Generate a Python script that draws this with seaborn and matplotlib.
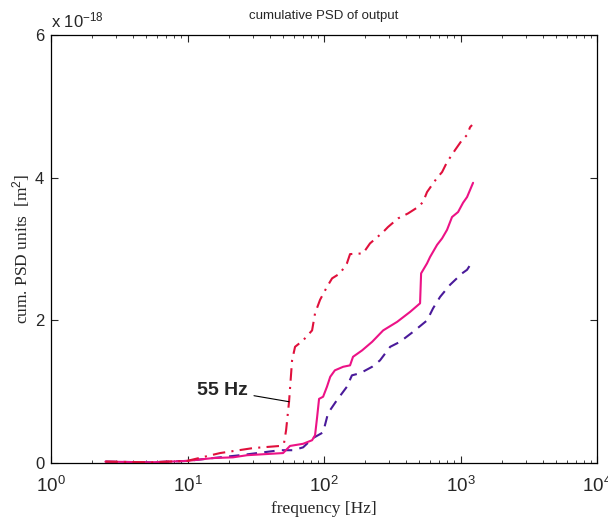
import numpy as np
import pandas as pd
import seaborn as sns
import matplotlib
matplotlib.use("Agg")
import matplotlib.pyplot as plt

# cumulative PSD, values in units of 1e-18 m^2
freq_red = [2.5, 5.3, 9.9, 17.3, 30.2, 47.6, 50.9, 52.7, 55.4, 58.3, 61.3, 70.2, 81.7, 85.9,
            93.5, 105, 114.5, 131, 147, 155, 193, 217, 236, 271, 294, 348, 412, 488, 531,
            568, 618, 673, 732, 796, 912, 1026, 1116, 1174, 1214]
psd_red = [0.02, 0.01, 0.03, 0.14, 0.21, 0.24, 0.28, 0.46, 0.86, 1.44, 1.63, 1.72, 1.86, 2.10,
           2.29, 2.47, 2.59, 2.66, 2.80, 2.93, 2.94, 3.08, 3.14, 3.24, 3.31, 3.43, 3.50, 3.59, 3.66,
           3.80, 3.90, 4.00, 4.08, 4.22, 4.39, 4.53, 4.60, 4.71, 4.74]

freq_solid = [2.5, 5.3, 9.9, 15.4, 21.5, 27.3, 50.1, 56.3, 70.2, 81.7, 85.9, 88.9, 91.9, 98.4,
              105, 111, 120, 138, 155, 163, 190, 225, 271, 343, 427, 505, 514, 568, 598, 673,
              732, 796, 866, 959, 1043, 1116, 1174, 1235]
psd_solid = [0.02, 0.01, 0.03, 0.07, 0.08, 0.11, 0.14, 0.24, 0.27, 0.32, 0.39, 0.64, 0.90, 0.93,
             1.07, 1.21, 1.30, 1.35, 1.37, 1.49, 1.58, 1.70, 1.86, 1.98, 2.12, 2.24, 2.66, 2.80, 2.89, 3.06,
             3.15, 3.27, 3.45, 3.52, 3.65, 3.73, 3.83, 3.93]

freq_dash = [2.5, 5.3, 9.9, 15.4, 24.3, 47.6, 59.3, 70.2, 83.0, 98.4, 107, 124, 147, 160, 184,
             225, 257, 305, 360, 449, 568, 629, 708, 838, 1026, 1116, 1214]
psd_dash = [0.02, 0.01, 0.03, 0.07, 0.11, 0.18, 0.18, 0.22, 0.35, 0.43, 0.70, 0.88, 1.07, 1.23, 1.26,
            1.35, 1.44, 1.63, 1.70, 1.84, 2.00, 2.17, 2.33, 2.50, 2.66, 2.71, 2.82]

sns.set_style("ticks")
plt.rcParams['font.family'] = ['Liberation Sans', 'DejaVu Sans']
plt.rcParams['mathtext.fontset'] = 'custom'
plt.rcParams['mathtext.rm'] = 'Liberation Sans'
plt.rcParams['mathtext.it'] = 'Liberation Sans:italic'

fig, ax = plt.subplots(figsize=(6.08, 5.25), dpi=100)
fig.subplots_adjust(left=0.084, right=0.982, top=0.933, bottom=0.118)

sns.lineplot(x=freq_dash, y=psd_dash, ax=ax, color='#4a1a9a', linestyle=(0, (5, 3.5)),
             linewidth=1.5, estimator=None, sort=False)
sns.lineplot(x=freq_solid, y=psd_solid, ax=ax, color='#ec1286', linestyle='-',
             linewidth=1.5, estimator=None, sort=False)
sns.lineplot(x=freq_red, y=psd_red, ax=ax, color='#e0103c', linestyle=(0, (6, 3, 1, 3)),
             linewidth=1.5, estimator=None, sort=False)

ax.set_xscale('log')
ax.set_xlim(1, 1e4)
ax.set_ylim(0, 6)
ax.set_yticks([0, 2, 4, 6])
ax.set_yticklabels(['0', '2', '4', '6'])
ax.tick_params(which='both', direction='in', top=True, right=True)
ax.tick_params(axis='y', labelsize=12, pad=5)
ax.tick_params(axis='x', labelsize=13.5, pad=9)
ax.tick_params(which='major', length=5, width=0.8)
ax.tick_params(which='minor', length=2.5, width=0.6)
for s in ax.spines.values():
    s.set_linewidth(0.9)
    s.set_color('black')

ax.set_xlabel('frequency [Hz]', family='Liberation Serif', fontsize=12.5, labelpad=4)
ax.set_ylabel('cum. PSD units  [m$^2$]', family='Liberation Serif', fontsize=12.5, labelpad=2)
ax.set_title('cumulative PSD of output', fontsize=9.5, pad=12)
ax.text(0.0, 1.012, r'x 10$^{-18}$', transform=ax.transAxes, fontsize=12,
        ha='left', va='bottom')

ax.annotate('55 Hz', xy=(55.4, 0.86), xytext=(27.7, 1.02), fontsize=14, fontweight='bold',
            ha='right', va='center',
            arrowprops=dict(arrowstyle='-', color='black', lw=0.8, shrinkA=2, shrinkB=0))

fig.savefig('out.png', dpi=100)
